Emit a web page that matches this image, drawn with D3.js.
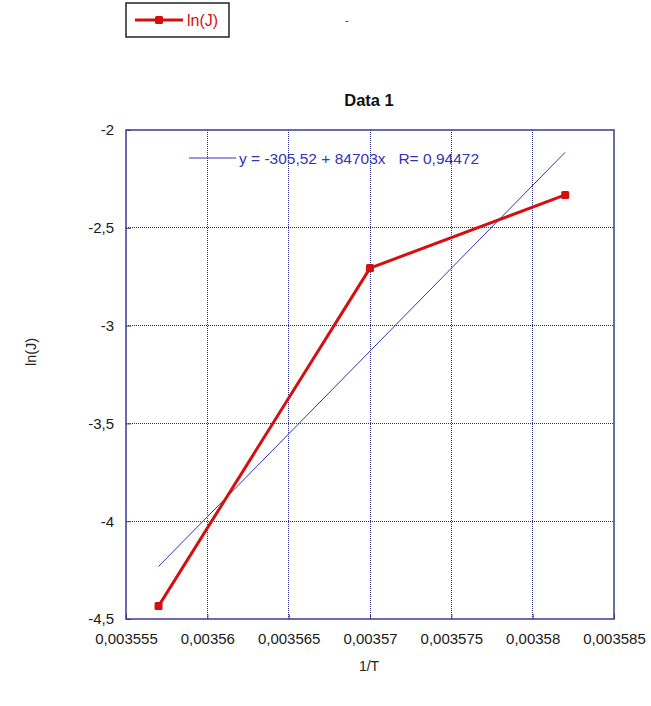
<!DOCTYPE html>
<html>
<head>
<meta charset="utf-8">
<script src="https://cdn.jsdelivr.net/npm/d3@7"></script>
<style>
  html, body { margin: 0; padding: 0; background: #fff; }
  svg { display: block; font-family: "Liberation Sans", Arial, sans-serif; }
</style>
</head>
<body>
<svg id="chart" width="651" height="706"></svg>
<script>
// Measured points: inverse temperature vs. ln of current density
const invT = [0.003557, 0.00357, 0.003582];
const lnJ = [-4.434, -2.706, -2.332];

// Linear fit coefficients as printed in the annotation
const fitIntercept = -305.52;
const fitSlope = 84703;
const fitR = 0.94472;

const xTicks = [0.003555, 0.00356, 0.003565, 0.00357, 0.003575, 0.00358, 0.003585];
const yTicks = [-2, -2.5, -3, -3.5, -4, -4.5];

const seriesName = "ln(J)";
const chartTitle = "Data 1";
const xTitle = "1/T";
const yTitle = "ln(J)";

const fmt = v => String(v).replace(".", ",");

const svg = d3.select("#chart");
const plot = { left: 126, right: 614, top: 130, bottom: 619 };

const x = d3.scaleLinear().domain([0.003555, 0.003585]).range([plot.left, plot.right]);
const y = d3.scaleLinear().domain([-4.5, -2]).range([plot.bottom, plot.top]);

const frameColor = "#3a3a92";
const gridColor = "#2a2a80";
const red = "#d40f0f";
const blue = "#3434b4";

// Dotted grid lines
const g = svg.append("g");
g.selectAll("line.vg").data(xTicks.slice(1, -1)).join("line")
  .attr("x1", d => x(d)).attr("x2", d => x(d))
  .attr("y1", plot.top).attr("y2", plot.bottom)
  .attr("stroke", gridColor).attr("stroke-width", 1)
  .attr("stroke-dasharray", "1,1").attr("shape-rendering", "crispEdges");
g.selectAll("line.hg").data(yTicks.slice(1, -1)).join("line")
  .attr("y1", d => y(d)).attr("y2", d => y(d))
  .attr("x1", plot.left).attr("x2", plot.right)
  .attr("stroke", gridColor).attr("stroke-width", 1)
  .attr("stroke-dasharray", "1,1").attr("shape-rendering", "crispEdges");

// Axes with inward ticks
const xAxis = svg.append("g").attr("transform", `translate(0,${plot.bottom})`)
  .call(d3.axisBottom(x).tickValues(xTicks).tickFormat(fmt).tickSizeInner(-5).tickSizeOuter(0).tickPadding(14));
const yAxis = svg.append("g").attr("transform", `translate(${plot.left},0)`)
  .call(d3.axisLeft(y).tickValues(yTicks).tickFormat(fmt).tickSizeInner(-5).tickSizeOuter(0).tickPadding(12));
[xAxis, yAxis].forEach(a => {
  a.select(".domain").remove();
  a.selectAll(".tick line").attr("stroke", frameColor);
  a.selectAll(".tick text").attr("fill", "#1a1a1a").style("font-size", "15px")
    .style("font-family", "'Liberation Sans', Arial, sans-serif");
});

// Frame
svg.append("rect")
  .attr("x", plot.left).attr("y", plot.top)
  .attr("width", plot.right - plot.left).attr("height", plot.bottom - plot.top)
  .attr("fill", "none").attr("stroke", frameColor).attr("stroke-width", 1.5);

// Regression line over the data range
const fitX = d3.extent(invT);
svg.append("line")
  .attr("x1", x(fitX[0])).attr("y1", y(fitIntercept + fitSlope * fitX[0]))
  .attr("x2", x(fitX[1])).attr("y2", y(fitIntercept + fitSlope * fitX[1]))
  .attr("stroke", blue).attr("stroke-width", 1);

// Data series
const pts = invT.map((v, i) => [v, lnJ[i]]);
svg.append("path").datum(pts)
  .attr("d", d3.line().x(d => x(d[0])).y(d => y(d[1])))
  .attr("fill", "none").attr("stroke", red).attr("stroke-width", 3)
  .attr("stroke-linejoin", "round");
svg.selectAll("rect.pt").data(pts).join("rect")
  .attr("x", d => x(d[0]) - 4).attr("y", d => y(d[1]) - 4)
  .attr("width", 8).attr("height", 8).attr("rx", 1.5)
  .attr("fill", red);

// Fit annotation
svg.append("line").attr("x1", 189).attr("x2", 236).attr("y1", 158).attr("y2", 158)
  .attr("stroke", blue).attr("stroke-width", 1);
svg.append("text").attr("x", 239).attr("y", 164)
  .attr("fill", blue).style("font-size", "15.5px")
  .attr("xml:space", "preserve")
  .text(`y = ${fmt(fitIntercept)} + ${fitSlope}x   R= ${fmt(fitR)}`);

// Title
svg.append("text").attr("x", 369).attr("y", 106).attr("text-anchor", "middle")
  .style("font-size", "16.5px").style("font-weight", "bold").attr("fill", "#111")
  .text(chartTitle);

// Axis titles
svg.append("text").attr("x", 369).attr("y", 671).attr("text-anchor", "middle")
  .style("font-size", "14px").attr("fill", "#222").text(xTitle);
svg.append("text").attr("transform", "translate(36,352) rotate(-90)")
  .attr("text-anchor", "middle").style("font-size", "14.5px").attr("fill", "#222").text(yTitle);

// Legend
const lg = svg.append("g");
lg.append("rect").attr("x", 126).attr("y", 3).attr("width", 103).attr("height", 34)
  .attr("fill", "#fff").attr("stroke", "#222").attr("stroke-width", 1.5);
lg.append("line").attr("x1", 135).attr("x2", 183).attr("y1", 20).attr("y2", 20)
  .attr("stroke", red).attr("stroke-width", 3);
lg.append("rect").attr("x", 155).attr("y", 16).attr("width", 8).attr("height", 8).attr("rx", 1.5).attr("fill", red);
lg.append("text").attr("x", 187).attr("y", 26).style("font-size", "16px").attr("fill", red).text(seriesName);
lg.append("text").attr("x", 345).attr("y", 24).style("font-size", "11px").attr("fill", "#333").text("-");
</script>
</body>
</html>
